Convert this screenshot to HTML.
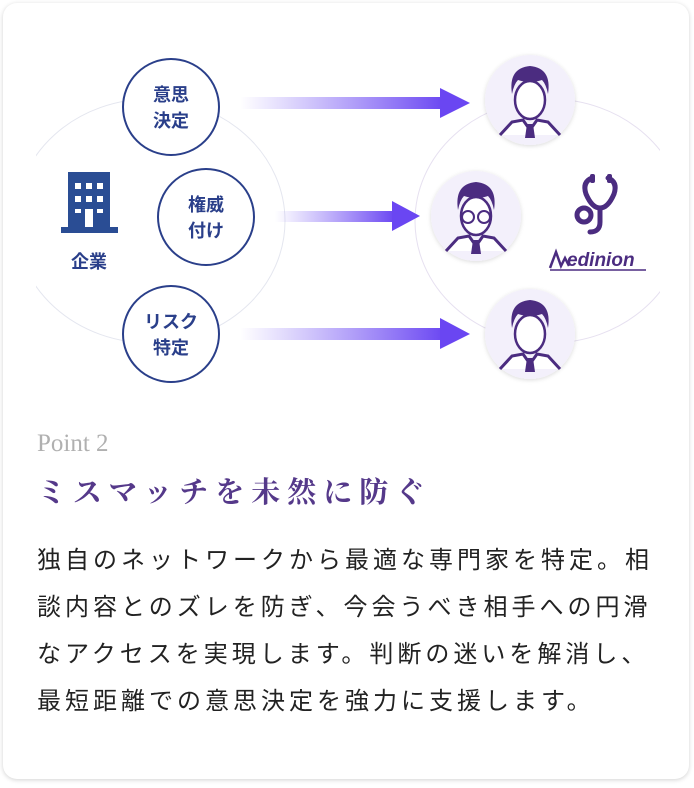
<!DOCTYPE html>
<html><head><meta charset="utf-8"><style>
body{margin:0;width:694px;height:788px;background:#fff;overflow:hidden;font-family:"Liberation Sans","Noto Sans CJK JP",sans-serif}
.card{position:absolute;left:3px;top:3px;width:686px;height:776px;border-radius:14px;background:#fff;box-shadow:0 1px 5px rgba(0,0,0,.18)}
.pt{position:absolute;left:37px;top:430px;font-family:"Liberation Serif",serif;font-size:25px;color:#b0b0b0}
.tt{position:absolute;left:37px;top:470px;font-family:"Liberation Serif","Noto Serif CJK SC",serif;font-size:29px;font-weight:bold;color:#55398a;letter-spacing:7px;white-space:nowrap}
.bd{position:absolute;left:37px;top:537px;font-size:24px;line-height:47px;letter-spacing:4px;color:#222;white-space:nowrap}
</style></head><body>
<div class="card"></div>
<svg width="694" height="400" style="position:absolute;left:0;top:0" font-family="Liberation Sans,Noto Sans CJK JP,sans-serif">
<defs>
<linearGradient id="g" x1="0" x2="1"><stop offset="0" stop-color="#7a5cf5" stop-opacity="0"/><stop offset="1" stop-color="#6a46f2"/></linearGradient>
<filter id="s" x="-20%" y="-20%" width="140%" height="140%"><feDropShadow dx="0" dy="1" stdDeviation="2" flood-opacity=".15"/></filter>
<clipPath id="c"><rect x="36" y="0" width="624" height="400"/></clipPath>
</defs>
<g clip-path="url(#c)">
<ellipse cx="150" cy="221" rx="135" ry="122" fill="none" stroke="#e4e6ef" stroke-width="1"/>
<ellipse cx="550" cy="221" rx="135" ry="122" fill="none" stroke="#e6e0f0" stroke-width="1"/>
</g>
<!-- arrows -->
<rect x="240" y="97" width="205" height="12" fill="url(#g)"/><polygon points="440,88 470,103 440,118" fill="#6a46f2"/>
<rect x="275" y="211" width="120" height="11" fill="url(#g)"/><polygon points="392,201 420,216 392,231" fill="#6a46f2"/>
<rect x="240" y="328" width="205" height="12" fill="url(#g)"/><polygon points="440,318 470,334 440,349" fill="#6a46f2"/>
<!-- left circles -->
<g fill="#fff" stroke="#2a3f8a" stroke-width="2">
<circle cx="171" cy="107" r="48"/><circle cx="206" cy="217" r="48"/><circle cx="171" cy="334" r="48"/></g>
<g fill="#2a3f8a" font-size="18" font-weight="bold" text-anchor="middle">
<text x="171" y="101">意思</text><text x="171" y="127">決定</text>
<text x="206" y="211">権威</text><text x="206" y="237">付け</text>
<text x="171" y="328">リスク</text><text x="171" y="354">特定</text>
<text x="89" y="268">企業</text></g>
<!-- building -->
<g fill="#2a4d94"><rect x="68" y="172" width="42" height="58"/><rect x="61" y="227" width="57" height="6"/></g>
<g fill="#fff"><rect x="75" y="183" width="6" height="6"/><rect x="86" y="183" width="6" height="6"/><rect x="97" y="183" width="6" height="6"/>
<rect x="75" y="196" width="6" height="6"/><rect x="86" y="196" width="6" height="6"/><rect x="97" y="196" width="6" height="6"/>
<rect x="75" y="209" width="6" height="4"/><rect x="97" y="209" width="6" height="4"/><rect x="85" y="209" width="8" height="18"/></g>
<!-- doctors -->
<g id="d">
<circle cx="530" cy="100" r="45" fill="#f3f0fb" filter="url(#s)"/>
<ellipse cx="530" cy="100" rx="15" ry="19" fill="#fff" stroke="#4b2c80" stroke-width="2.5"/>
<path d="M512 94 q-4-26 18-28 q22 2 18 28 q-2-10-6-14 q-12 4-24 0 q-4 4-6 14z" fill="#4b2c80"/>
<path d="M500 135 l12-13 l11-2 l7 10 l7-10 l11 2 l12 13" fill="#fff" stroke="#4b2c80" stroke-width="3"/>
<path d="M527 124 h6 l2 14 h-10z" fill="#4b2c80"/>
</g>
<use href="#d" x="-54" y="116"/>
<use href="#d" x="0" y="234"/>
<g fill="none" stroke="#4b2c80" stroke-width="2"><circle cx="468" cy="217" r="6"/><circle cx="484" cy="217" r="6"/></g>
<!-- stethoscope -->
<g fill="none" stroke="#4b2c80" stroke-width="5" stroke-linecap="round">
<path d="M592 178 q-10 4-6 16 q6 14 14 14 q8 0 14-14 q4-12-6-16"/>
<path d="M600 208 v14 q0 10-10 10"/>
<circle cx="584" cy="215" r="7"/></g>
<rect x="590" y="174" width="5" height="9" rx="2" fill="#4b2c80"/><rect x="607" y="174" width="5" height="9" rx="2" fill="#4b2c80"/>
<text x="567" y="266" font-size="19" font-weight="bold" font-style="italic" fill="#4b2c80">edinion</text>
<path d="M550 268 l6-16 l5 14 l4-8 l4 8" fill="none" stroke="#4b2c80" stroke-width="2.5"/>
<line x1="550" y1="270" x2="646" y2="270" stroke="#4b2c80" stroke-width="1.5"/>
</svg>
<div class="pt">Point 2</div>
<div class="tt">ミスマッチを未然に防ぐ</div>
<div class="bd">独自のネットワークから最適な専門家を特定。相<br>談内容とのズレを防ぎ、今会うべき相手への円滑<br>なアクセスを実現します。判断の迷いを解消し、<br>最短距離での意思決定を強力に支援します。</div>
</body></html>
